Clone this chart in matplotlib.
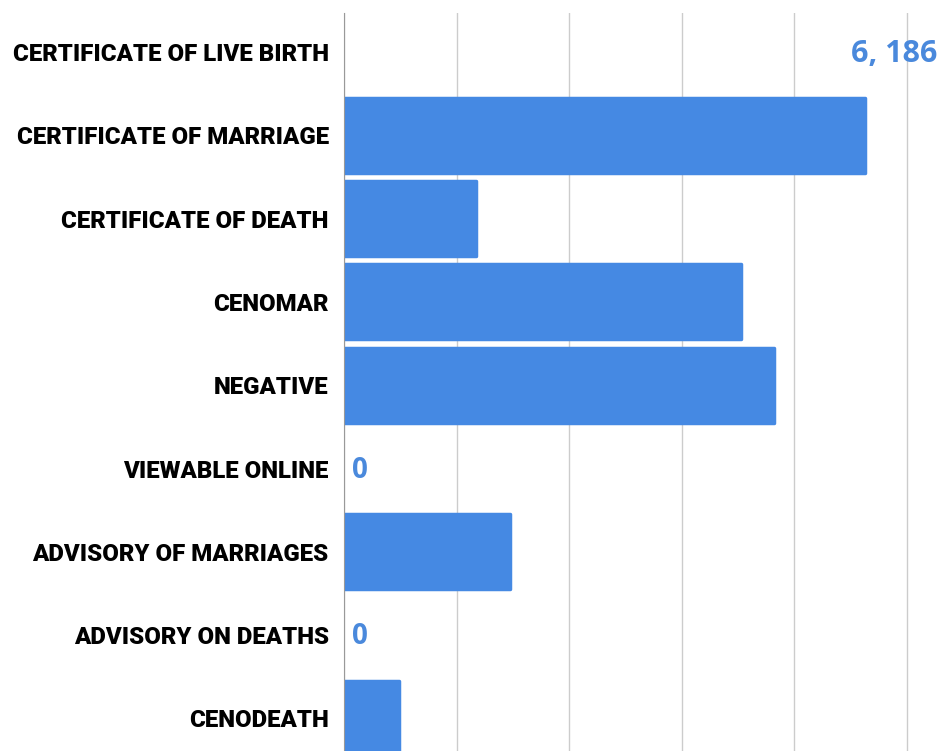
import matplotlib
matplotlib.use("Agg")
import matplotlib.pyplot as plt

categories = ["CERTIFICATE OF LIVE BIRTH", "CERTIFICATE OF MARRIAGE", "CERTIFICATE OF DEATH",
              "CENOMAR", "NEGATIVE", "VIEWABLE ONLINE", "ADVISORY OF MARRIAGES",
              "ADVISORY ON DEATHS", "CENODEATH"]
values = [6186, 4630, 1170, 3530, 3815, 0, 1470, 0, 485]
value_labels = ["6, 186", "", "", "", "", "0", "", "0", ""]
show_bar = [False, True, True, True, True, True, True, True, True]

bar_color = "#4589E3"
label_color = "#4A89DC"

fig = plt.figure(figsize=(9.39, 7.51), dpi=100)
W, H = 939, 751
ax = fig.add_axes([344 / W, (H - 760) / H, (939 - 344) / W, 747 / H])

y = list(range(len(categories)))
colors = [bar_color if (s and v > 0) else "none" for s, v in zip(show_bar, values)]
ax.barh(y, values, height=0.9, color=colors, edgecolor=colors, linewidth=2.5,
        joinstyle="round", zorder=3)

xmax = 5284
ax.set_xlim(0, xmax)
ax.set_ylim(8.5, -0.47)
ax.set_xticks([0, 1000, 2000, 3000, 4000, 5000])
ax.grid(axis="x", color="#cccccc", linewidth=1, zorder=0)
ax.tick_params(axis="x", length=0, labelbottom=False)
ax.tick_params(axis="y", length=0, pad=11)
ax.set_yticks(y)
ax.set_yticklabels(categories, fontsize=17.3, fontweight=900, family="Roboto", color="black")
for side in ["top", "right", "bottom"]:
    ax.spines[side].set_visible(False)
ax.spines["left"].set_color("#999999")
ax.spines["left"].set_zorder(4)

for i, (v, lab) in enumerate(zip(values, value_labels)):
    if not lab:
        continue
    if v > xmax * 0.9:
        ax.text(xmax - 15, i + 0.02, lab, ha="right", va="center", fontsize=22,
                fontweight="bold", family="Open Sans", color=label_color, zorder=5)
    else:
        ax.text(v + 70, i + 0.02, lab, ha="left", va="center", fontsize=20,
                fontweight="bold", family="Open Sans", color=label_color, zorder=5)

fig.savefig("out.png", dpi=100)
